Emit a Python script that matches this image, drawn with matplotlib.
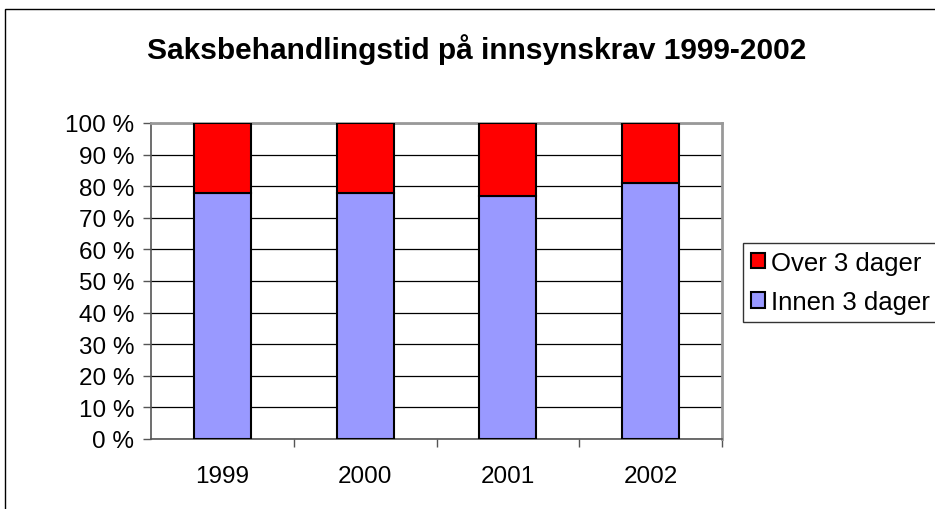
import matplotlib.pyplot as plt
import numpy as np

years = ['1999', '2000', '2001', '2002']
innen = [77.7, 77.7, 76.8, 81.0]
over = [100 - v for v in innen]

fig = plt.figure(figsize=(9.35, 5.1), dpi=100)
plt.rcParams['font.family'] = ['Liberation Sans', 'DejaVu Sans']

# outer chart border (Excel style)
fig.patches.append(plt.Rectangle((5 / 935, -0.1), 1.2, 1 - 10 / 510 + 0.1,
                                 transform=fig.transFigure, fill=False,
                                 edgecolor='black', linewidth=1.0))

ax = fig.add_axes([151 / 935, 1 - 440 / 510, (722 - 151) / 935, (440 - 124) / 510])
x = np.arange(len(years))
ax.bar(x, innen, width=0.4, color='#9999ff', edgecolor='black', linewidth=1.5,
       label='Innen 3 dager', zorder=3)
ax.bar(x, over, width=0.4, bottom=innen, color='#ff0000', edgecolor='black',
       linewidth=1.5, label='Over 3 dager', zorder=3)

ax.set_xlim(-0.5, 3.5)
ax.set_ylim(0, 100)
ax.set_yticks(range(0, 101, 10))
ax.set_yticklabels([f'{v} %' for v in range(0, 101, 10)], fontsize=17.5)
ax.yaxis.grid(True, color='black', linewidth=0.9, zorder=0)
ax.set_xticks(x)
ax.set_xticklabels(years, fontsize=17.5)
ax.set_xticks([0.5, 1.5, 2.5, 3.5], minor=True)
ax.tick_params(axis='x', which='major', length=0, pad=19)
ax.tick_params(axis='x', which='minor', length=6, width=1, color='#555555')
ax.tick_params(axis='y', length=6, width=1, color='#555555', pad=6)

for side in ['left', 'bottom']:
    ax.spines[side].set_color('#555555')
    ax.spines[side].set_linewidth(1.2)
for side in ['top', 'right']:
    ax.spines[side].set_color('#999999')
    ax.spines[side].set_linewidth(2)

fig.text(477 / 935, 1 - 50 / 510, 'Saksbehandlingstid på innsynskrav 1999-2002',
         ha='center', va='center', fontsize=21.5, fontweight='bold')

handles, labels = ax.get_legend_handles_labels()
leg = fig.legend(handles[::-1], labels[::-1], loc='upper left',
                 bbox_to_anchor=(743 / 935, 1 - 244 / 510), fontsize=18.5,
                 frameon=True, fancybox=False, edgecolor='black',
                 handlelength=0.55, handleheight=0.55, handletextpad=0.25,
                 borderpad=0.3, labelspacing=0.6, borderaxespad=0)
leg.get_frame().set_linewidth(1.0)

fig.savefig('out.png', dpi=100)
